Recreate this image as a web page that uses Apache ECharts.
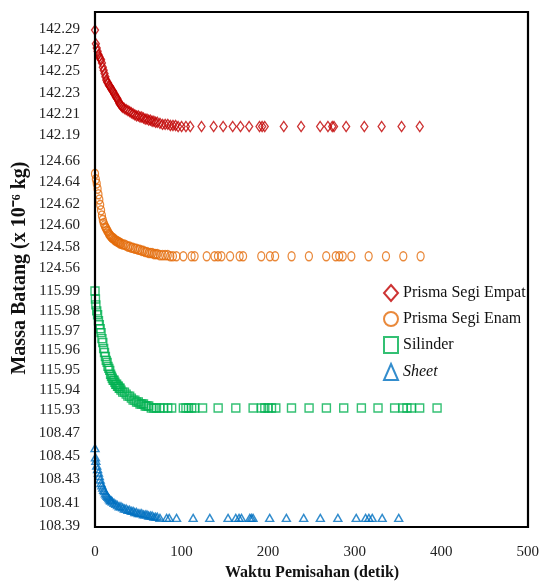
<!DOCTYPE html>
<html>
<head>
<meta charset="utf-8">
<script src="https://cdn.jsdelivr.net/npm/echarts@6/dist/echarts.min.js"></script>
<style>html,body{margin:0;padding:0;background:#fff;}#c{width:542px;height:583px;}</style>
</head>
<body>
<div id="c"></div>
<script>
// ---- Data ----
const xTicks = [0, 100, 200, 300, 400, 500];

const empatTicks = [142.19, 142.21, 142.23, 142.25, 142.27, 142.29];
const empatX = [0,1,2,3,4,5,6,7,8,9,10,11,12,13,14,15,16,17,18,19,20,21,22,23,24,25,26,27,28,29,30,31,32,34,36,38,40,42,44,46,48,50,52,54,56,58,60,62,64,66,68,70,72,75,78,81,84,87,90,93,96,100,105,110,123,137,148,159,168,178,190,193,196,218,238,260,269,274,276,290,311,331,354,375];
const empatY = [142.289,142.276,142.272,142.269,142.266,142.264,142.262,142.261,142.258,142.254,142.251,142.248,142.245,142.242,142.240,142.239,142.237,142.236,142.235,142.233,142.232,142.231,142.229,142.228,142.226,142.225,142.224,142.222,142.220,142.219,142.218,142.217,142.216,142.215,142.214,142.213,142.212,142.211,142.210,142.209,142.208,142.208,142.207,142.207,142.206,142.205,142.205,142.204,142.204,142.203,142.203,142.202,142.202,142.201,142.200,142.200,142.200,142.199,142.199,142.199,142.198,142.198,142.198,142.198,142.198,142.198,142.198,142.198,142.198,142.198,142.198,142.198,142.198,142.198,142.198,142.198,142.198,142.198,142.198,142.198,142.198,142.198,142.198,142.198];

const enamTicks = [124.56, 124.58, 124.60, 124.62, 124.64, 124.66];
const enamX = [0,1,2,3,4,5,6,7,8,9,10,11,12,13,14,15,16,17,18,19,20,21,22,23,24,25,26,27,28,29,30,32,34,36,38,40,42,44,46,48,50,52,54,56,58,60,62,64,66,68,70,72,75,78,81,84,87,90,94,102,111.5,115,129,138,142,146,156,167,171,192,202,208,227,247,267,278,282,286,296,316,336,356,376];
const enamY = [124.648,124.643,124.639,124.634,124.629,124.624,124.619,124.614,124.609,124.605,124.602,124.600,124.598,124.597,124.595,124.594,124.592,124.591,124.590,124.589,124.588,124.588,124.587,124.586,124.586,124.585,124.585,124.584,124.584,124.583,124.583,124.582,124.582,124.581,124.580,124.580,124.579,124.579,124.578,124.578,124.577,124.577,124.576,124.576,124.575,124.575,124.574,124.574,124.574,124.573,124.573,124.573,124.572,124.572,124.572,124.572,124.571,124.571,124.571,124.571,124.571,124.571,124.571,124.571,124.571,124.571,124.571,124.571,124.571,124.571,124.571,124.571,124.571,124.571,124.571,124.571,124.571,124.571,124.571,124.571,124.571,124.571,124.571];

const silinderTicks = [115.93, 115.94, 115.95, 115.96, 115.97, 115.98, 115.99];
const silinderX = [0,0.5,1,2,3,4,5,6,7,8,9,10,11,12,13,14,15,16,17,18,19,20,21,22,23,24,25,26,27,28,29,30,32,34,36,38,40,42,44,46,48,50,52,54,56,58,60,62,65,68,71,75,79,84,88.5,102,105,108,111.6,115.3,124.2,142.2,162.6,182.6,192.3,196.1,199.9,203.8,208.8,226.9,247.2,267.2,287.2,307.6,326.8,346,355.6,360.2,365.3,374.9,395];
const silinderY = [115.990,115.986,115.983,115.980,115.978,115.975,115.973,115.971,115.969,115.966,115.964,115.961,115.959,115.957,115.955,115.954,115.952,115.951,115.950,115.948,115.947,115.946,115.945,115.945,115.944,115.943,115.943,115.942,115.942,115.941,115.941,115.940,115.939,115.939,115.938,115.937,115.937,115.936,115.935,115.935,115.934,115.934,115.933,115.933,115.933,115.932,115.932,115.932,115.931,115.931,115.931,115.931,115.931,115.931,115.931,115.931,115.931,115.931,115.931,115.931,115.931,115.931,115.931,115.931,115.931,115.931,115.931,115.931,115.931,115.931,115.931,115.931,115.931,115.931,115.931,115.931,115.931,115.931,115.931,115.931,115.931];

const sheetTicks = [108.39, 108.41, 108.43, 108.45, 108.47];
const sheetX = [0,0.5,1,2,3,4,5,6,7,8,9,10,11,12,13,14,15,16,17,18,19,20,22,24,26,28,30,32,34,36,38,40,42,44,46,48,50,52,54,56,58,60,62,64,66,68,70,72,75,82.7,85.7,94.2,113.4,132.6,153.7,162.6,166.4,169.2,178.8,180.7,182.6,201.8,221.1,241.1,260.3,280.6,301.8,312.6,316.4,320.3,331.8,350.9];
const sheetY = [108.457,108.449,108.446,108.442,108.439,108.436,108.433,108.430,108.427,108.425,108.423,108.421,108.420,108.418,108.417,108.416,108.415,108.414,108.413,108.412,108.412,108.411,108.410,108.409,108.408,108.407,108.407,108.406,108.405,108.405,108.404,108.404,108.403,108.403,108.402,108.402,108.401,108.401,108.401,108.400,108.400,108.400,108.399,108.399,108.399,108.398,108.398,108.398,108.397,108.397,108.397,108.397,108.397,108.397,108.397,108.397,108.397,108.397,108.397,108.397,108.397,108.397,108.397,108.397,108.397,108.397,108.397,108.397,108.397,108.397,108.397,108.397];

const seriesNames = ['Prisma Segi Empat', 'Prisma Segi Enam', 'Silinder', 'Sheet'];

// ---- Layout / style ----
const panels = [
  {name: seriesNames[0], xs: empatX, ys: empatY, ticks: empatTicks, color: '#C00000', symbol: 'diamond', size: [7, 10], top: 29, height: 106},
  {name: seriesNames[1], xs: enamX, ys: enamY, ticks: enamTicks, color: '#E46C0A', symbol: 'circle', size: [7, 9], top: 161, height: 107},
  {name: seriesNames[2], xs: silinderX, ys: silinderY, ticks: silinderTicks, color: '#00B050', symbol: 'rect', size: [8, 8], top: 291, height: 119},
  {name: seriesNames[3], xs: sheetX, ys: sheetY, ticks: sheetTicks, color: '#0070C0', symbol: 'triangle', size: [8, 7], top: 433, height: 93}
];
const LEFT = 95, RIGHT = 14;
const FONT = '"Liberation Serif", "Times New Roman", serif';

const grids = [], xAxes = [], yAxes = [], series = [];
panels.forEach((p, i) => {
  const last = i === panels.length - 1;
  grids.push({left: LEFT, right: RIGHT, top: p.top, height: p.height, containLabel: false});
  xAxes.push({
    type: 'value', gridIndex: i, min: xTicks[0], max: xTicks[xTicks.length - 1],
    interval: xTicks[1] - xTicks[0],
    show: last,
    axisLine: {show: false}, axisTick: {show: false}, splitLine: {show: false},
    axisLabel: {show: last, fontFamily: FONT, fontSize: 15, color: '#222', margin: 19}
  });
  const step = +(p.ticks[1] - p.ticks[0]).toFixed(3);
  yAxes.push({
    type: 'value', gridIndex: i, min: p.ticks[0], max: p.ticks[p.ticks.length - 1],
    interval: step,
    axisLine: {show: false}, axisTick: {show: false}, splitLine: {show: false},
    axisLabel: {fontFamily: FONT, fontSize: 15, color: '#222', margin: 15,
      showMinLabel: true, showMaxLabel: true,
      formatter: v => v.toFixed(2)}
  });
  series.push({
    name: p.name, type: 'scatter', xAxisIndex: i, yAxisIndex: i,
    symbol: p.symbol, symbolSize: p.size,
    itemStyle: {color: 'rgba(255,255,255,0)', borderColor: p.color, borderWidth: 1.4},
    data: p.xs.map((x, k) => [x, p.ys[k]]),
    clip: false
  });
});

const chart = echarts.init(document.getElementById('c'), null, {renderer: 'canvas'});
chart.setOption({
  animation: false,
  backgroundColor: '#fff',
  grid: grids, xAxis: xAxes, yAxis: yAxes, series: series,
  legend: {
    orient: 'vertical', left: 378, top: 279, itemGap: 9, itemWidth: 14, itemHeight: 16,
    textStyle: {fontFamily: FONT, fontSize: 16, color: '#111',
      rich: {i: {fontFamily: FONT, fontSize: 16, color: '#111', fontStyle: 'italic'}}},
    formatter: n => n === 'Sheet' ? '{i|Sheet}' : n,
    data: seriesNames
  },
  graphic: [
    {type: 'rect', shape: {x: 95, y: 12, width: 433, height: 515}, style: {fill: 'none', stroke: '#000', lineWidth: 2.2}, silent: true, z: 100},
    {type: 'text', x: 20, y: 268, rotation: Math.PI / 2,
      style: {text: 'Massa Batang (x 10⁻⁶ kg)', font: 'bold 20px "Liberation Serif", serif', fill: '#111', align: 'center', verticalAlign: 'middle'}},
    {type: 'text', x: 312, y: 573,
      style: {text: 'Waktu Pemisahan (detik)', font: 'bold 16px "Liberation Serif", serif', fill: '#111', align: 'center', verticalAlign: 'middle'}}
  ]
});
</script>
</body>
</html>
